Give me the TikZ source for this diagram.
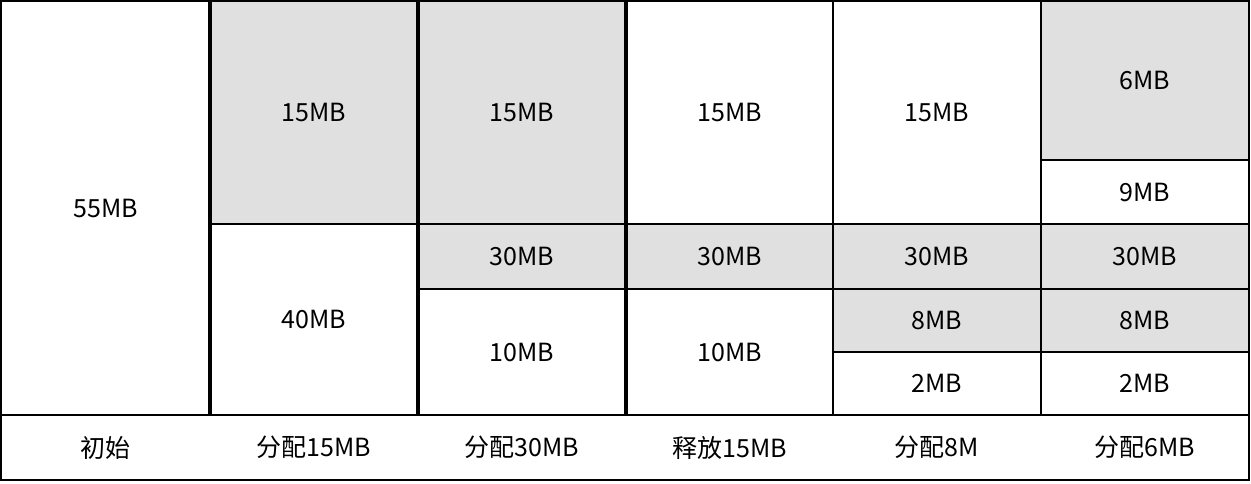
\documentclass[tikz,border=0pt]{standalone}
\usepackage{fontspec}
\setmainfont{Noto Sans CJK SC}
\begin{document}
\begin{tikzpicture}[x=1pt,y=-1pt,
    blk/.style={draw,line width=1.5pt,inner sep=0pt,outer sep=0pt,font=\fontsize{25}{30}\selectfont},
    used/.style={blk,fill=black!12},
    free/.style={blk,fill=white},
    sep/.style={line width=3.5pt}]
  \useasboundingbox (0,0) rectangle (1251,483);
  % 初始
  \node[free,minimum width=209pt,minimum height=414pt] (a55) at (105.5,208) {55MB};
  % 分配15MB
  \node[used,minimum width=208pt,minimum height=223pt] (b15) at (314,112.5) {15MB};
  \node[free,minimum width=208pt,minimum height=191pt] (b40) at (314,319.5) {40MB};
  % 分配30MB
  \node[used,minimum width=208pt,minimum height=223pt] (c15) at (522,112.5) {15MB};
  \node[used,minimum width=208pt,minimum height=65pt] (c30) at (522,256.5) {30MB};
  \node[free,minimum width=208pt,minimum height=126pt] (c10) at (522,352) {10MB};
  % 释放15MB
  \node[free,minimum width=207pt,minimum height=223pt] (d15) at (729.5,112.5) {15MB};
  \node[used,minimum width=207pt,minimum height=65pt] (d30) at (729.5,256.5) {30MB};
  \node[free,minimum width=207pt,minimum height=126pt] (d10) at (729.5,352) {10MB};
  % 分配8M
  \node[free,minimum width=208pt,minimum height=223pt] (e15) at (937,112.5) {15MB};
  \node[used,minimum width=208pt,minimum height=65pt] (e30) at (937,256.5) {30MB};
  \node[used,minimum width=208pt,minimum height=63pt] (e8) at (937,320.5) {8MB};
  \node[free,minimum width=208pt,minimum height=63pt] (e2) at (937,383.5) {2MB};
  % 分配6MB
  \node[used,minimum width=208pt,minimum height=159pt] (f6) at (1145,80.5) {6MB};
  \node[free,minimum width=208pt,minimum height=64pt] (f9) at (1145,192) {9MB};
  \node[used,minimum width=208pt,minimum height=65pt] (f30) at (1145,256.5) {30MB};
  \node[used,minimum width=208pt,minimum height=63pt] (f8) at (1145,320.5) {8MB};
  \node[free,minimum width=208pt,minimum height=63pt] (f2) at (1145,383.5) {2MB};
  % step labels
  \node[free,minimum width=1248pt,minimum height=65pt] (steps) at (625,447.5) {};
  \node[font=\fontsize{25}{30}\selectfont] (la) at (105.5,447.5) {初始};
  \node[font=\fontsize{25}{30}\selectfont] (lb) at (314,447.5) {分配15MB};
  \node[font=\fontsize{25}{30}\selectfont] (lc) at (522,447.5) {分配30MB};
  \node[font=\fontsize{25}{30}\selectfont] (ld) at (729.5,447.5) {释放15MB};
  \node[font=\fontsize{25}{30}\selectfont] (le) at (937,447.5) {分配8M};
  \node[font=\fontsize{25}{30}\selectfont] (lf) at (1145,447.5) {分配6MB};
  \draw[sep] (b15.north west) -- (b40.south west);
  \draw[sep] (c15.north west) -- (c10.south west);
  \draw[sep] (d15.north west) -- (d10.south west);
\end{tikzpicture}
\end{document}
